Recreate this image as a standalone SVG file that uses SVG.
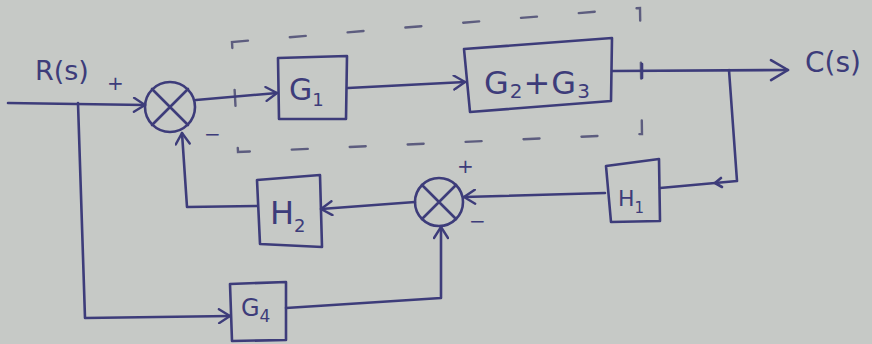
<svg xmlns="http://www.w3.org/2000/svg" width="872" height="344" viewBox="0 0 872 344">
<defs>
<style>
.ink{fill:none;stroke:#3d3c7a;stroke-width:2.6;stroke-linecap:round;stroke-linejoin:round}
.dash{fill:none;stroke:#4a4a72;stroke-width:2.4;stroke-dasharray:16 42;stroke-linecap:round;opacity:0.85}
.lbl{font-family:"DejaVu Sans","Liberation Sans",sans-serif;fill:#3d3c7a}
.sign{font-family:"DejaVu Sans","Liberation Sans",sans-serif;fill:#3d3c7a;font-size:20px}
</style>
<marker id="arr" markerWidth="16" markerHeight="16" refX="13" refY="8" orient="auto" markerUnits="userSpaceOnUse">
<path d="M2,1 L13,8 L2,15" fill="none" stroke="#3d3c7a" stroke-width="2.4" stroke-linecap="round" stroke-linejoin="round"/>
</marker>
<marker id="arrBig" markerWidth="24" markerHeight="24" refX="20" refY="12" orient="auto" markerUnits="userSpaceOnUse">
<path d="M3,2 L20,12 L3,22" fill="none" stroke="#3d3c7a" stroke-width="2.6" stroke-linecap="round" stroke-linejoin="round"/>
</marker>
</defs>
<rect width="872" height="344" fill="#c6c9c6"/>

<g id="boundary">
<path class="dash" d="M232,42 L640,8 L642,134 L238,152 Z"/>
</g>

<g id="connectors">
<path class="ink" d="M8,103 L145,105" marker-end="url(#arr)"/>
<path class="ink" d="M78,103 L85,318 L230,316" marker-end="url(#arr)"/>
<path class="ink" d="M196,100 L277,93" marker-end="url(#arr)"/>
<path class="ink" d="M348,88 L465,82" marker-end="url(#arr)"/>
<path class="ink" d="M612,71 L788,70" marker-end="url(#arrBig)"/>
<path class="ink" d="M642,64 L642,78"/>
<path class="ink" d="M729,70 L737,181 L660,188"/>
<path class="ink" d="M721,178 L715,183 L722,187"/>
<path class="ink" d="M605,193 L464,197" marker-end="url(#arr)"/>
<path class="ink" d="M415,202 L321,209" marker-end="url(#arr)"/>
<path class="ink" d="M257,206 L187,207 L182,133" marker-end="url(#arr)"/>
<path class="ink" d="M286,308 L441,298 L441,227" marker-end="url(#arr)"/>
</g>

<g id="sum1">
<circle class="ink" cx="170" cy="107" r="25"/>
<path class="ink" d="M152,89 L188,125 M188,89 L152,125"/>
</g>

<g id="sum2">
<circle class="ink" cx="439" cy="202" r="24"/>
<path class="ink" d="M422,185 L456,219 M456,185 L422,219"/>
</g>

<g id="G1">
<path class="ink" d="M278,58 L347,56 L346,119 L279,119 Z"/>
<text class="lbl" x="289" y="100" font-size="30">G<tspan font-size="18" dy="6">1</tspan></text>
</g>

<g id="G2G3">
<path class="ink" d="M464,49 L612,38 L611,101 L470,112 Z"/>
<text class="lbl" x="484" y="94" font-size="32" letter-spacing="1">G<tspan font-size="20" dy="4">2</tspan><tspan dy="-4">+G</tspan><tspan font-size="20" dy="4">3</tspan></text>
</g>

<g id="H1">
<path class="ink" d="M606,166 L659,159 L660,221 L611,222 Z"/>
<text class="lbl" x="618" y="206" font-size="22">H<tspan font-size="15" dy="7">1</tspan></text>
</g>

<g id="H2">
<path class="ink" d="M257,180 L320,175 L322,247 L260,244 Z"/>
<text class="lbl" x="270" y="224" font-size="32">H<tspan font-size="18" dy="8">2</tspan></text>
</g>

<g id="G4">
<path class="ink" d="M230,284 L286,282 L286,340 L232,341 Z"/>
<text class="lbl" x="241" y="316" font-size="24">G<tspan font-size="17" dy="6">4</tspan></text>
</g>

<g id="labels">
<text class="lbl" x="35" y="80" font-size="27">R(s)</text>
<text class="lbl" x="805" y="72" font-size="28">C(s)</text>
<text class="sign" x="107" y="90">+</text>
<text class="sign" x="204" y="141">−</text>
<text class="sign" x="457" y="173">+</text>
<text class="sign" x="469" y="228" font-size="24">−</text>
</g>
</svg>
